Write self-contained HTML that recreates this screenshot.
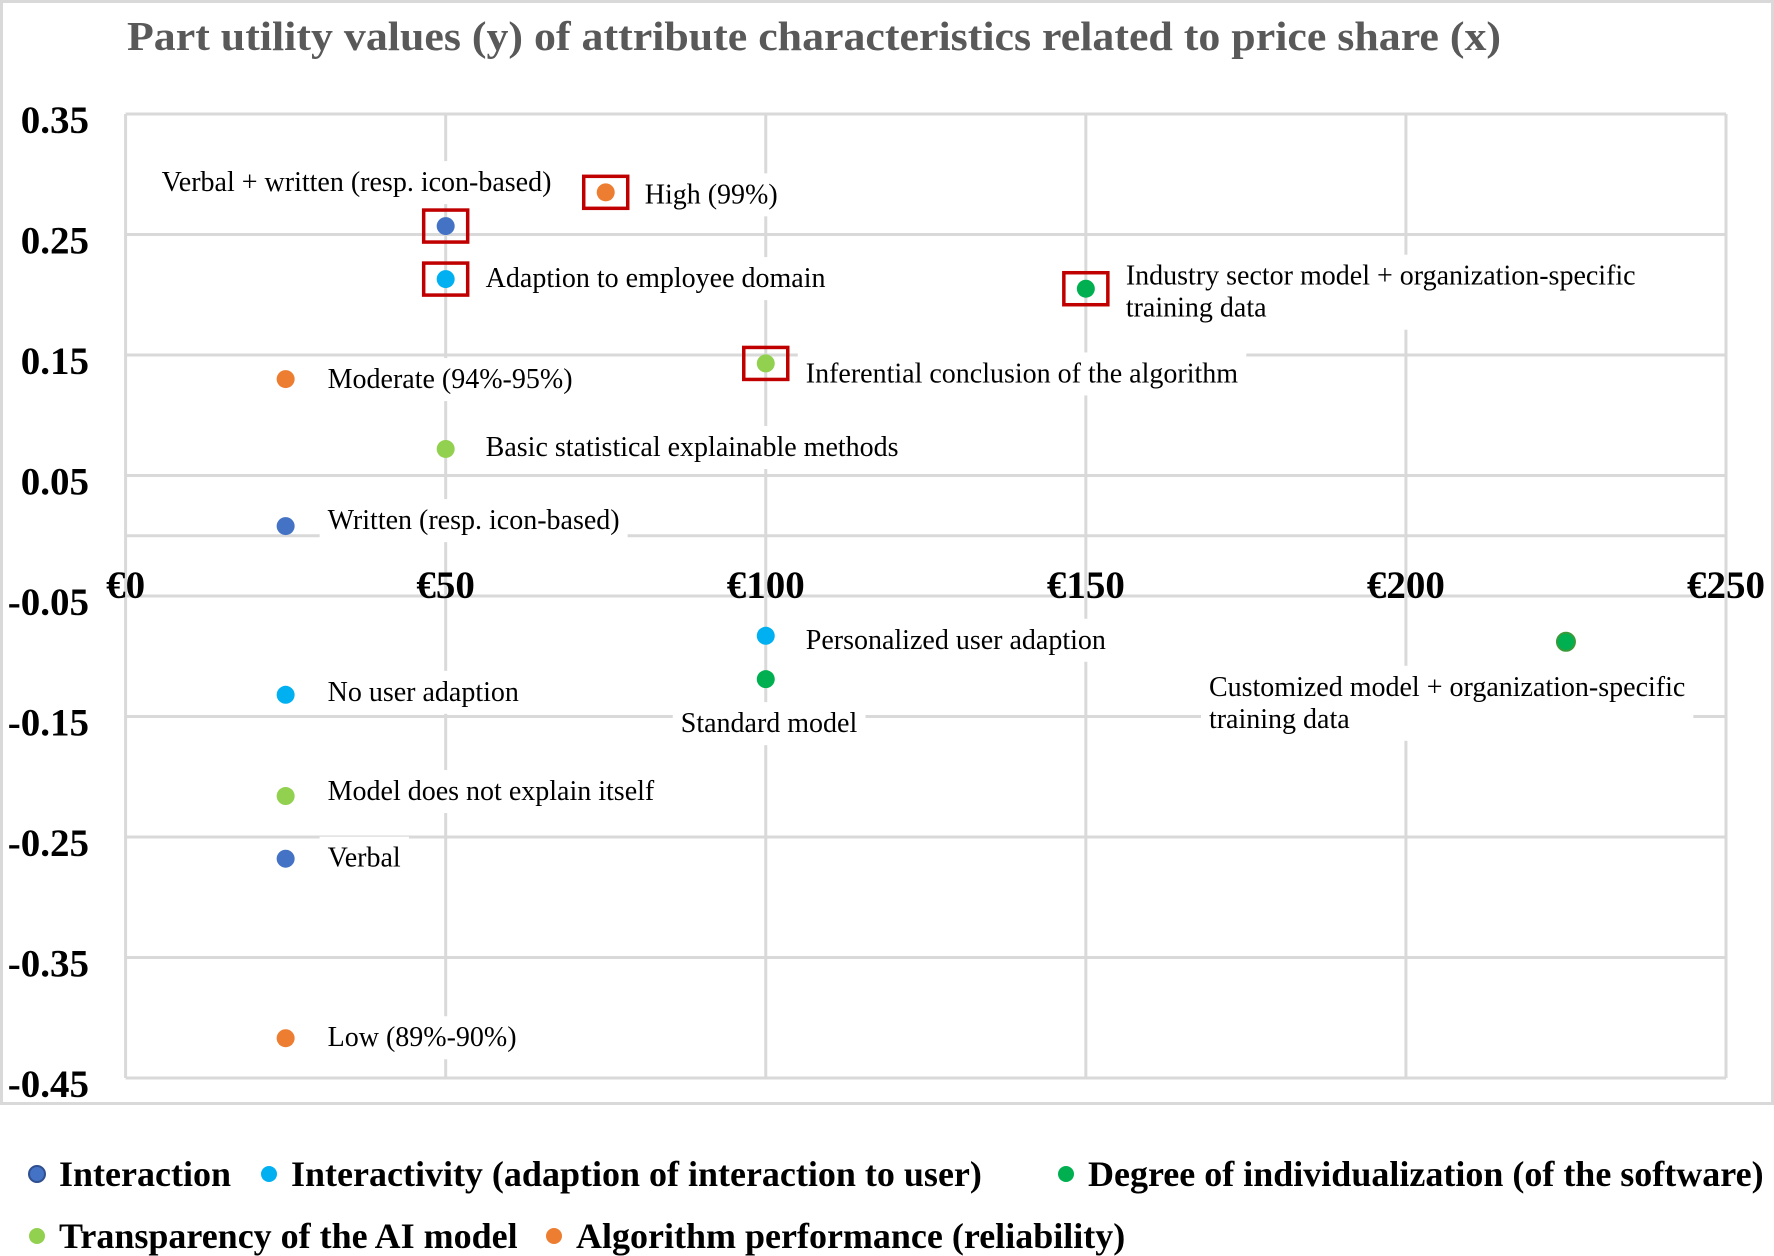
<!DOCTYPE html>
<html><head><meta charset="utf-8">
<style>
html,body{margin:0;padding:0;background:#fff;}
svg{display:block;font-family:"Liberation Serif",serif;}
</style></head>
<body>
<svg id="chart" width="1774" height="1256" viewBox="0 0 1774 1256">
<rect x="1.5" y="1.5" width="1771" height="1102" fill="#fff" stroke="#d9d9d9" stroke-width="3"/>
<text x="127" y="50" font-size="41" font-weight="bold" fill="#595959" textLength="1374" lengthAdjust="spacingAndGlyphs">Part utility values (y) of attribute characteristics related to price share (x)</text>
<g id="grid"></g>
<g id="labels"></g>
<g id="points"></g>
<g id="axes"></g>
<g id="legend"></g>
</svg>
<script>
const xTicks = [0, 50, 100, 150, 200, 250];
const xTickLabels = ["€0", "€50", "€100", "€150", "€200", "€250"];
const yTicks = [0.35, 0.25, 0.15, 0.05, -0.05, -0.15, -0.25, -0.35, -0.45];
const yTickLabels = ["0.35", "0.25", "0.15", "0.05", "-0.05", "-0.15", "-0.25", "-0.35", "-0.45"];

const pointNames = ["Verbal + written (resp. icon-based)", "High (99%)", "Adaption to employee domain", "Industry sector model + organization-specific|training data", "Inferential conclusion of the algorithm", "Moderate (94%-95%)", "Basic statistical explainable methods", "Written (resp. icon-based)", "Personalized user adaption", "Standard model", "Customized model + organization-specific|training data", "No user adaption", "Model does not explain itself", "Verbal", "Low (89%-90%)"];
const priceValues = [50, 75, 50, 150, 100, 25, 50, 25, 100, 100, 225, 25, 25, 25, 25];
const utilityValues = [0.257, 0.285, 0.213, 0.205, 0.143, 0.130, 0.072, 0.008, -0.083, -0.119, -0.088, -0.132, -0.216, -0.268, -0.417];
const categoryIndex = [0, 4, 1, 2, 3, 4, 3, 0, 1, 2, 2, 1, 3, 0, 4];
const highlighted = [1, 1, 1, 1, 1, 0, 0, 0, 0, 0, 0, 0, 0, 0, 0];

const categories = ["Interaction", "Interactivity (adaption of interaction to user)", "Degree of individualization (of the software)", "Transparency of the AI model", "Algorithm performance (reliability)"];
const categoryColors = ["#4472C4", "#00B0F0", "#00B050", "#92D050", "#ED7D31"];

// label offsets in px relative to point (layout, not data)
const labelDX = [-284, 39, 40, 40, 40, 42, 40, 42, 40, -85, -357, 42, 42, 42, 42];
const labelDY = [-45, 1, -2, -14, 9, -1, -3, -7, 3, 43, 44, -4, -6, -2, -2];

const NS = "http://www.w3.org/2000/svg";
const L = 125.6, R = 1726, T = 114, B = 1078;
const xMin = 0, xMax = 250, yMin = -0.45, yMax = 0.35;
const xs = v => L + (v - xMin) / (xMax - xMin) * (R - L);
const ys = v => T + (yMax - v) / (yMax - yMin) * (B - T);
function mk(tag, attrs, parent) {
  const e = document.createElementNS(NS, tag);
  for (const k in attrs) e.setAttribute(k, attrs[k]);
  parent.appendChild(e);
  return e;
}
const grid = document.getElementById("grid");
const axes = document.getElementById("axes");
const labels = document.getElementById("labels");
const points = document.getElementById("points");
const legend = document.getElementById("legend");

yTicks.forEach((t, i) => {
  const ln = mk("line", {x1: L, x2: R, y1: ys(t), y2: ys(t), stroke: "#d9d9d9", "stroke-width": 3}, grid);
  
  
  const tx = mk("text", {x: 89, y: ys(t) + 19, "text-anchor": "end", "font-size": 39, "font-weight": "bold", fill: "#000"}, axes);
  tx.textContent = yTickLabels[i];
  
  
});
xTicks.forEach((t, i) => {
  const ln = mk("line", {x1: xs(t), x2: xs(t), y1: T, y2: B, stroke: "#d9d9d9", "stroke-width": 3}, grid);
  
  
  const tx = mk("text", {x: xs(t), y: ys(0) + 62, "text-anchor": "middle", "font-size": 39, "font-weight": "bold", fill: "#000"}, axes);
  tx.textContent = xTickLabels[i];
  
  
});
const zl = mk("line", {x1: L, x2: R, y1: ys(0), y2: ys(0), stroke: "#d9d9d9", "stroke-width": 3}, grid);



pointNames.forEach((name, i) => {
  const px = xs(priceValues[i]), py = ys(utilityValues[i]);
  const lines = name.split("|");
  const g = mk("g", {}, labels);
  
  
  const bg = mk("rect", {fill: "#fff"}, g);
  const tx = mk("text", {x: px + labelDX[i], y: py + labelDY[i] + 10, "font-size": 28, fill: "#000"}, g);
  lines.forEach((ln, j) => {
    const ts = mk("tspan", {x: px + labelDX[i], dy: j === 0 ? 0 : 32}, tx);
    ts.textContent = ln;
  });
  const bb = tx.getBBox();
  bg.setAttribute("x", bb.x - 8); bg.setAttribute("y", bb.y - 6);
  bg.setAttribute("width", bb.width + 16); bg.setAttribute("height", bb.height + 12);

  const c = mk("circle", {cx: px, cy: py, r: 9, fill: categoryColors[categoryIndex[i]]}, points);
  
  
  if (i === 10) c.setAttribute("stroke", "#3a9a3a"), c.setAttribute("stroke-width", 2);
  if (highlighted[i]) {
    const r = mk("rect", {x: px - 22, y: py - 16, width: 44, height: 32, fill: "none", stroke: "#C00000", "stroke-width": 3.5}, points);
    
    
  }
});

const legX = [37, 269, 1066, 37, 554];
const legY = [1174, 1174, 1174, 1236, 1236];
categories.forEach((c, i) => {
  const g = mk("g", {}, legend);
  
  
  mk("circle", {cx: legX[i], cy: legY[i], r: 8, fill: categoryColors[i], stroke: i === 0 ? "#2f4f8f" : "none", "stroke-width": 2}, g);
  const t = mk("text", {x: legX[i] + 22, y: legY[i] + 12, "font-size": 36, "font-weight": "bold", fill: "#000"}, g);
  t.textContent = c;
});
</script>
</body></html>
